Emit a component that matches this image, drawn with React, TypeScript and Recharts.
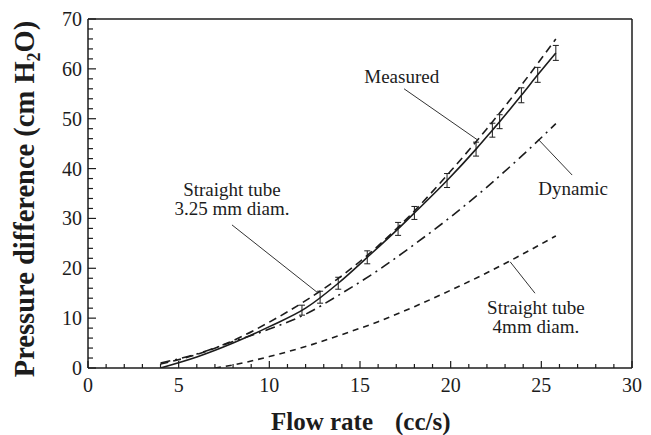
import {
  ComposedChart,
  Line,
  Scatter,
  ErrorBar,
  XAxis,
  YAxis,
  ReferenceLine,
  ReferenceDot,
  Label,
} from 'recharts'

const INK = '#1c1c1c'
const FONT = '"Liberation Serif", "Times New Roman", serif'

// measured curve (solid) and the points carrying error bars
const measuredX = [4, 6, 8, 10, 12, 13.8, 15.4, 17.1, 18, 19.8, 21.4, 22.3, 22.7, 23.9, 24.8, 25.8]
const measuredY = [0, 2.2, 5, 8.3, 12, 17, 22.2, 27.9, 31.1, 37.6, 43.9, 47.7, 49.4, 54.7, 58.8, 63.2]

const errX = [11.8, 12.8, 13.8, 15.4, 17.1, 18, 19.8, 21.4, 22.3, 22.7, 23.9, 24.8, 25.8]
const errY = [11.6, 14.2, 17, 22.2, 27.9, 31.1, 37.6, 43.9, 47.7, 49.4, 54.7, 58.8, 63.2]
const errSize = [1, 1.2, 1.2, 1.3, 1.3, 1.3, 1.4, 1.4, 1.4, 1.4, 1.5, 1.5, 1.5]

// straight tube 3.25 mm (dashed)
const tube325X = [4, 6, 8, 10, 12, 14, 16, 18, 20, 22, 24, 25.8]
const tube325Y = [0.8, 2.7, 5.5, 9.2, 13.5, 18.5, 24.5, 31.5, 39.5, 48, 57.2, 66]

// dynamic (dash-dot)
const dynamicX = [4, 6, 8, 10, 12, 14, 16, 18, 20, 22, 24, 25.8]
const dynamicY = [1, 2.8, 5.3, 7.8, 10.8, 15, 19.6, 24.8, 30.3, 36.3, 42.8, 49]

// straight tube 4 mm (short dashes)
const tube4X = [7, 8, 10, 12, 14, 16, 18, 20, 22, 24, 25.8]
const tube4Y = [0, 0.6, 2.3, 4.3, 6.7, 9.3, 12.3, 15.6, 19.1, 22.9, 26.5]

const xTicks = Array.from({ length: 31 }, (_, i) => i)
const yTicks = Array.from({ length: 36 }, (_, i) => i * 2)

// annotation text: anchor point (text centre / first baseline) and leader line
const notes = [
  { lines: ['Measured'], x: 17.3, y: 57.2, from: [17.43, 56.0], to: [21.5, 45.7] },
  { lines: ['Dynamic'], x: 26.75, y: 34.7, from: [24.82, 45.9], to: [26.7, 38.7] },
  { lines: ['Straight tube', '3.25 mm diam.'], x: 7.94, y: 34.5, from: [7.94, 28.7], to: [12.63, 15.2] },
  { lines: ['Straight tube', '4mm diam.'], x: 24.7, y: 10.8, from: [23.28, 21.3], to: [24.65, 15.0] },
]

const toPts = (xs: number[], ys: number[]) => xs.map((x, i) => ({ x, y: ys[i] }))

const measured = toPts(measuredX, measuredY)
const tube325 = toPts(tube325X, tube325Y)
const dynamic = toPts(dynamicX, dynamicY)
const tube4 = toPts(tube4X, tube4Y)
const errPts = errX.map((x, i) => ({ x, y: errY[i], err: errSize[i] }))

function XTick({ x, y, payload }: any) {
  const major = payload.value % 5 === 0
  return (
    <g>
      <line x1={x} x2={x} y1={y} y2={y - (major ? 7 : 4)} stroke={INK} strokeWidth={1.2} />
      {major && (
        <text x={x} y={y + 24} textAnchor="middle" fontFamily={FONT} fontSize={20} fill={INK}>
          {payload.value}
        </text>
      )}
    </g>
  )
}

function YTick({ x, y, payload }: any) {
  const major = payload.value % 10 === 0
  return (
    <g>
      <line x1={x} x2={x + (major ? 8 : 5)} y1={y} y2={y} stroke={INK} strokeWidth={1.2} />
      {major && (
        <text x={x - 6} y={y + 7} textAnchor="end" fontFamily={FONT} fontSize={20} fill={INK}>
          {payload.value}
        </text>
      )}
    </g>
  )
}

function NoteText({ viewBox, lines }: any) {
  return (
    <text fontFamily={FONT} fontSize={19} fill={INK} textAnchor="middle">
      {lines.map((t: string, i: number) => (
        <tspan key={i} x={viewBox.x} y={viewBox.y + i * 19}>
          {t}
        </tspan>
      ))}
    </text>
  )
}

export default function App() {
  return (
    <div style={{ position: 'absolute', left: 0, top: 0, background: '#fff' }}>
      <ComposedChart width={651} height={435} margin={{ top: 19, right: 19, bottom: 0, left: 0 }}>
        <XAxis
          type="number"
          dataKey="x"
          domain={[0, 30]}
          ticks={xTicks}
          interval={0}
          height={67}
          tickSize={0}
          tickMargin={0}
          tickLine={false}
          tick={<XTick />}
          axisLine={{ stroke: INK, strokeWidth: 1.5 }}
          allowDataOverflow
        >
          <Label
            content={() => (
              <text x={271} y={430} fontFamily={FONT} fontSize={25} fontWeight="bold" fill={INK}>
                Flow rate
                <tspan dx={22}>(cc/s)</tspan>
              </text>
            )}
          />
        </XAxis>
        <YAxis
          type="number"
          dataKey="y"
          domain={[0, 70]}
          ticks={yTicks}
          interval={0}
          width={88}
          tickSize={0}
          tickMargin={0}
          tickLine={false}
          tick={<YTick />}
          axisLine={{ stroke: INK, strokeWidth: 1.5 }}
          allowDataOverflow
        >
          <Label
            content={() => (
              <text
                transform="translate(34, 199) rotate(-90)"
                textAnchor="middle"
                fontFamily={FONT}
                fontSize={28.5}
                fontWeight="bold"
                fill={INK}
              >
                Pressure difference{'  '}(cm H
                <tspan fontSize={18} dy={6}>2</tspan>
                <tspan dy={-6}>O)</tspan>
              </text>
            )}
          />
        </YAxis>

        <ReferenceLine y={70} stroke={INK} strokeWidth={1.5} />
        <ReferenceLine x={30} stroke={INK} strokeWidth={1.5} />

        <Line data={tube4} dataKey="y" type="monotone" stroke={INK} strokeWidth={1.6} strokeDasharray="6 5" dot={false} isAnimationActive={false} />
        <Line data={dynamic} dataKey="y" type="monotone" stroke={INK} strokeWidth={1.6} strokeDasharray="10 5 2 5" dot={false} isAnimationActive={false} />
        <Line data={tube325} dataKey="y" type="monotone" stroke={INK} strokeWidth={1.6} strokeDasharray="8 5" dot={false} isAnimationActive={false} />
        <Line data={measured} dataKey="y" type="monotone" stroke={INK} strokeWidth={1.6} dot={false} isAnimationActive={false} />
        <Scatter data={errPts} dataKey="y" shape={() => <g />} isAnimationActive={false}>
          <ErrorBar dataKey="err" direction="y" width={3} stroke={INK} strokeWidth={1} isAnimationActive={false} />
        </Scatter>

        {notes.map((n, i) => (
          <ReferenceLine
            key={`l${i}`}
            segment={[{ x: n.from[0], y: n.from[1] }, { x: n.to[0], y: n.to[1] }]}
            stroke="#333"
            strokeWidth={1}
          />
        ))}
        {notes.map((n, i) => (
          <ReferenceDot
            key={`t${i}`}
            x={n.x}
            y={n.y}
            r={0}
            fill="none"
            stroke="none"
            label={<NoteText lines={n.lines} />}
          />
        ))}
      </ComposedChart>
    </div>
  )
}
